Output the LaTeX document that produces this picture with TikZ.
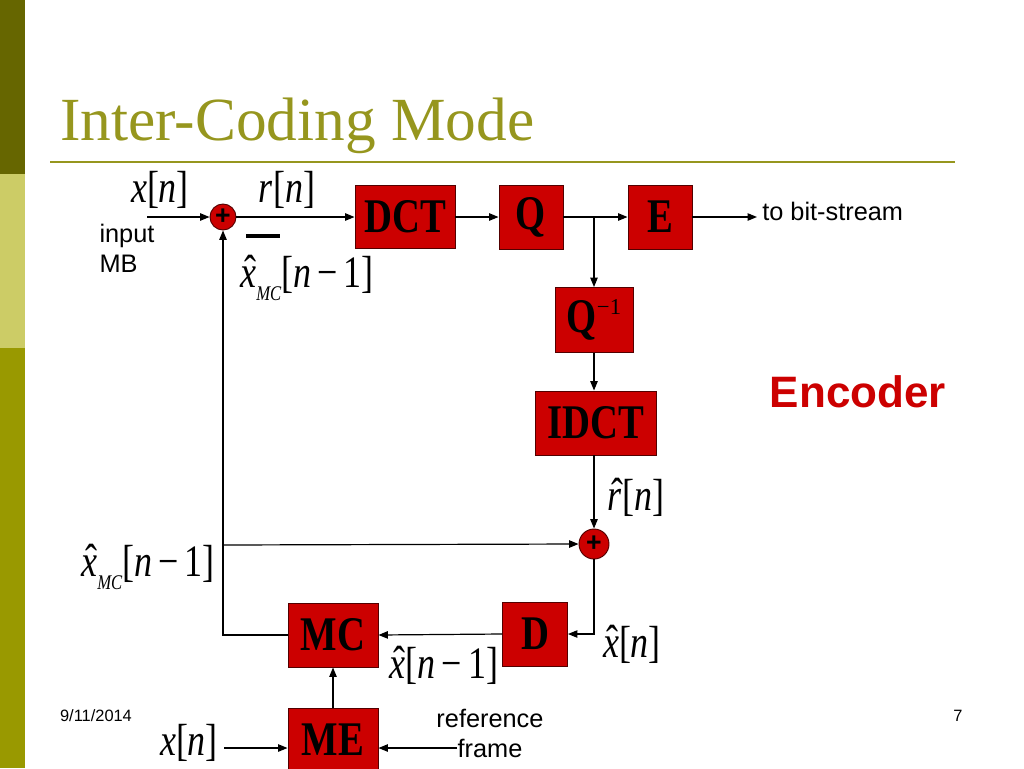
\documentclass[tikz,border=0pt]{standalone}
\usepackage{fontspec}
\setmainfont{Liberation Serif}
\newfontfamily\sansf{Liberation Sans}
\usetikzlibrary{arrows.meta}
\definecolor{boxred}{RGB}{204,0,0}
\definecolor{olivedark}{RGB}{102,102,0}
\definecolor{olivelight}{RGB}{204,204,102}
\definecolor{olivemid}{RGB}{153,153,0}
\definecolor{titlecol}{RGB}{150,150,30}
\newcommand\mth[1]{\scalebox{1}[1.25]{\fontsize{27}{27}\selectfont #1}}
\newcommand\sbx[1]{\raisebox{-8pt}{\fontsize{12.5}{12.5}\selectfont\itshape #1}}
\newcommand\bx[1]{\scalebox{1}[1.25]{\fontsize{29}{29}\selectfont\bfseries #1}}
\newcommand\vi[1]{\textit{#1}}
\newcommand\hx[1]{\leavevmode\rlap{\hspace{0.11em}\raisebox{0.02em}{ˆ}}\textit{#1}}
\begin{document}
\begin{tikzpicture}[x=0.75pt,y=-0.75pt,
  blk/.style 2 args={draw=black!60!boxred, line width=0.7pt, fill=boxred,
     minimum width=#1*0.75pt, minimum height=#2*0.75pt, inner sep=0pt},
  adder/.style={circle, draw=black!60!boxred, line width=0.7pt, fill=boxred,
     minimum size=#1*0.75pt, inner sep=0pt, text=black, font=\sansf\bfseries\fontsize{20}{20}\selectfont},
  arr/.style={line width=0.9pt, -{Triangle[length=7pt,width=5.5pt]}},
  lbl/.style={inner sep=0pt},
  sans/.style={inner sep=0pt, font=\sansf\fontsize{19}{22.5}\selectfont}]
\useasboundingbox (0,0) rectangle (1024,768);
\clip (0,0) rectangle (1024,768);
% left bar
\fill[olivedark] (0,0) rectangle (25,174);
\fill[olivelight] (0,174) rectangle (25,348);
\fill[olivemid] (0,348) rectangle (25,768);
% title
\node[anchor=base west, inner sep=0pt, text=titlecol, font=\fontsize{46}{46}\selectfont] (title) at (60,140) {Inter-Coding Mode};
\draw[titlecol, line width=1.6pt] (50,162) -- (955,162);
% blocks
\node[blk={100}{63}] (DCT) at (405,217) {\bx{DCT}};
\node[blk={64}{64}] (Q) at (531,217) {\bx{Q}};
\node[blk={64}{64}] (E) at (660,217) {\bx{E}};
\node[blk={78}{65}] (Qi) at (594,320) {\bx{Q}\raisebox{13pt}{\fontsize{17}{17}\selectfont −1}};
\node[blk={121}{64}] (IDCT) at (596,423) {\bx{IDCT}};
\node[blk={65}{64}] (D) at (535,634) {\bx{D}};
\node[blk={90}{64}] (MC) at (333,635) {\bx{MC}};
\node[blk={90}{64}] (ME) at (333,740) {\bx{ME}};
\node[adder=26] (A1) at (223,217) {+};
\node[adder=30] (A2) at (594,544) {+};
% connectors
\coordinate (xin) at (147,217);
\coordinate (bs) at (757,217);
\coordinate (br) at (594,217);
\coordinate (j) at (223,545);
\coordinate (xb) at (224,748);
\coordinate (rf) at (457,748);
\draw[arr] (xin) -- (A1.west);
\draw[arr] (A1.east) -- (DCT.west);
\draw[arr] (DCT.east) -- (Q.west);
\draw[arr] (Q.east) -- (E.west);
\draw[arr] (E.east) -- (bs);
\draw[arr] (br) -- (Qi.north);
\draw[arr] (Qi.south) -- (Qi.south |- IDCT.north);
\draw[arr] (IDCT.south -| A2) -- (A2.north);
\draw[arr] (A2.south) |- (D.east);
\draw[arr] (D.west) -- (MC.east);
\draw[arr] (MC.west) -| (A1.south);
\draw[arr] (j) -- (A2.west);
\draw[arr] (ME.north) -- (MC.south);
\draw[arr] (xb) -- (xb -| ME.west);
\draw[arr] (rf) -- (rf -| ME.east);
% minus bar
\draw[line width=3pt] (246,236) -- (280,236);
% labels
\node[lbl] (lx) at (160,190) {\mth{\vi{x}[\vi{n}]}};
\node[lbl] (lr) at (287,190) {\mth{\vi{r}[\vi{n}]}};
\node[lbl] (lxmc1) at (307,278) {\mth{\hx{x}\sbx{MC}[\vi{n}\,−\,1]}};
\node[sans, align=left] (inp) at (127,248) {input\\MB};
\node[sans, anchor=west] (tbs) at (762,211) {to bit-stream};
\node[inner sep=0pt, text=boxred, font=\sansf\bfseries\fontsize{33}{33}\selectfont] (enc) at (858,392) {Encoder};
\node[lbl] (lrh) at (636,497) {\mth{\hx{r}[\vi{n}]}};
\node[lbl] (lxmc2) at (148,567) {\mth{\hx{x}\sbx{MC}[\vi{n}\,−\,1]}};
\node[lbl] (lxn1) at (444,665) {\mth{\hx{x}[\vi{n}\,−\,1]}};
\node[lbl] (lxh) at (632,644) {\mth{\hx{x}[\vi{n}]}};
\node[lbl] (lxb) at (189,743) {\mth{\vi{x}[\vi{n}]}};
\node[sans, align=center] (ref) at (490,733) {reference\\frame};
\node[inner sep=0pt, font=\sansf\fontsize{12.3}{12.3}\selectfont] (date) at (96,716) {9/11/2014};
\node[inner sep=0pt, font=\sansf\fontsize{12.3}{12.3}\selectfont] (pg) at (958,716) {7};
\end{tikzpicture}
\end{document}
